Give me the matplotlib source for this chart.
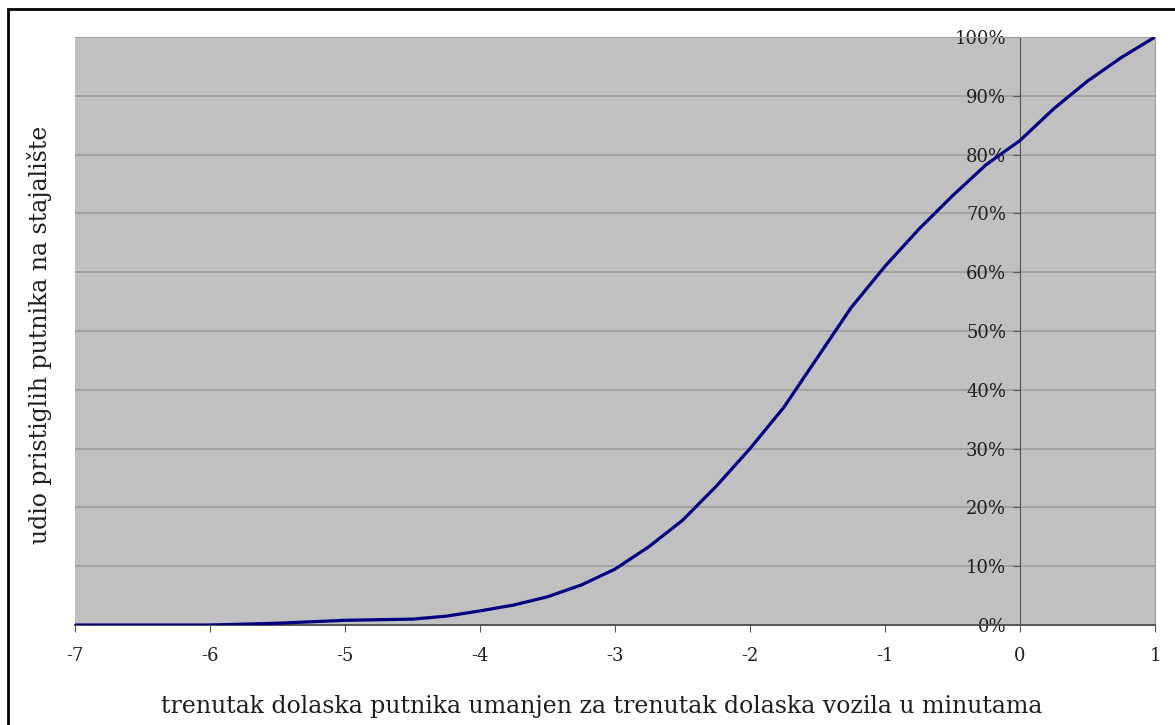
import matplotlib
matplotlib.use('Agg')
import matplotlib.pyplot as plt
from matplotlib.patches import Rectangle

# data
minutes = [-7, -6.5, -6, -5.5, -5, -4.75, -4.5, -4.25, -4, -3.75, -3.5, -3.25, -3,
           -2.75, -2.5, -2.25, -2, -1.75, -1.5, -1.25, -1, -0.75, -0.5, -0.25,
           0, 0.25, 0.5, 0.75, 1]
share = [0, 0, 0, 0.3, 0.8, 0.9, 1.0, 1.5, 2.4, 3.4, 4.8, 6.8, 9.5,
         13.3, 17.8, 23.6, 30, 37, 45.5, 54, 61, 67.3, 73, 78.3,
         82.4, 87.8, 92.5, 96.5, 100]

x_ticks = [-7, -6, -5, -4, -3, -2, -1, 0, 1]
y_ticks = [0, 10, 20, 30, 40, 50, 60, 70, 80, 90, 100]
y_labels = [f'{v}%' for v in y_ticks]

x_label = 'trenutak dolaska putnika umanjen za trenutak dolaska vozila u minutama'
y_label = 'udio pristiglih putnika na stajalište'

plt.rcParams['font.family'] = 'DejaVu Serif'

fig = plt.figure(figsize=(11.75, 7.25), dpi=100)
ax = fig.add_axes([75/1175, 1 - 625/725, 1080/1175, 588/725])
ax.set_facecolor('#c0c0c0')

ax.plot(minutes, share, color='#000080', lw=2.3, zorder=3)

ax.set_xlim(-7, 1)
ax.set_ylim(0, 100)

ax.set_xticks(x_ticks)
ax.set_xticklabels([str(t) for t in x_ticks])
ax.set_yticks(y_ticks)
ax.set_yticklabels(y_labels)

ax.yaxis.grid(True, color='#9c9c9c', lw=1.2)
ax.set_axisbelow(True)

# y axis sits at x = 0
ax.spines['left'].set_position(('data', 0))
ax.spines['left'].set_color('#555555')
ax.spines['bottom'].set_color('#555555')
ax.spines['bottom'].set_linewidth(1.4)
ax.spines['right'].set_color('#a0a0a0')
ax.spines['top'].set_color('#a0a0a0')

ax.tick_params(axis='x', direction='out', length=5, color='#555555',
               labelsize=13, labelcolor='#1e1e1e', pad=11)
ax.tick_params(axis='y', direction='out', length=5, color='#555555',
               labelsize=13, labelcolor='#1e1e1e', pad=5)

fig.text(602/1175, 1 - 707/725, x_label, ha='center', va='center',
         fontsize=17, color='#1e1e1e')
fig.text(40/1175, 1 - 335/725, y_label, ha='center', va='center',
         rotation=90, fontsize=17, color='#1e1e1e')

# outer frame
fig.add_artist(Rectangle((8/1175, -0.1), 1.2, 1 - 9/725 + 0.1, fill=False,
                         transform=fig.transFigure, lw=2, color='black'))

plt.savefig('out.png', dpi=100)
